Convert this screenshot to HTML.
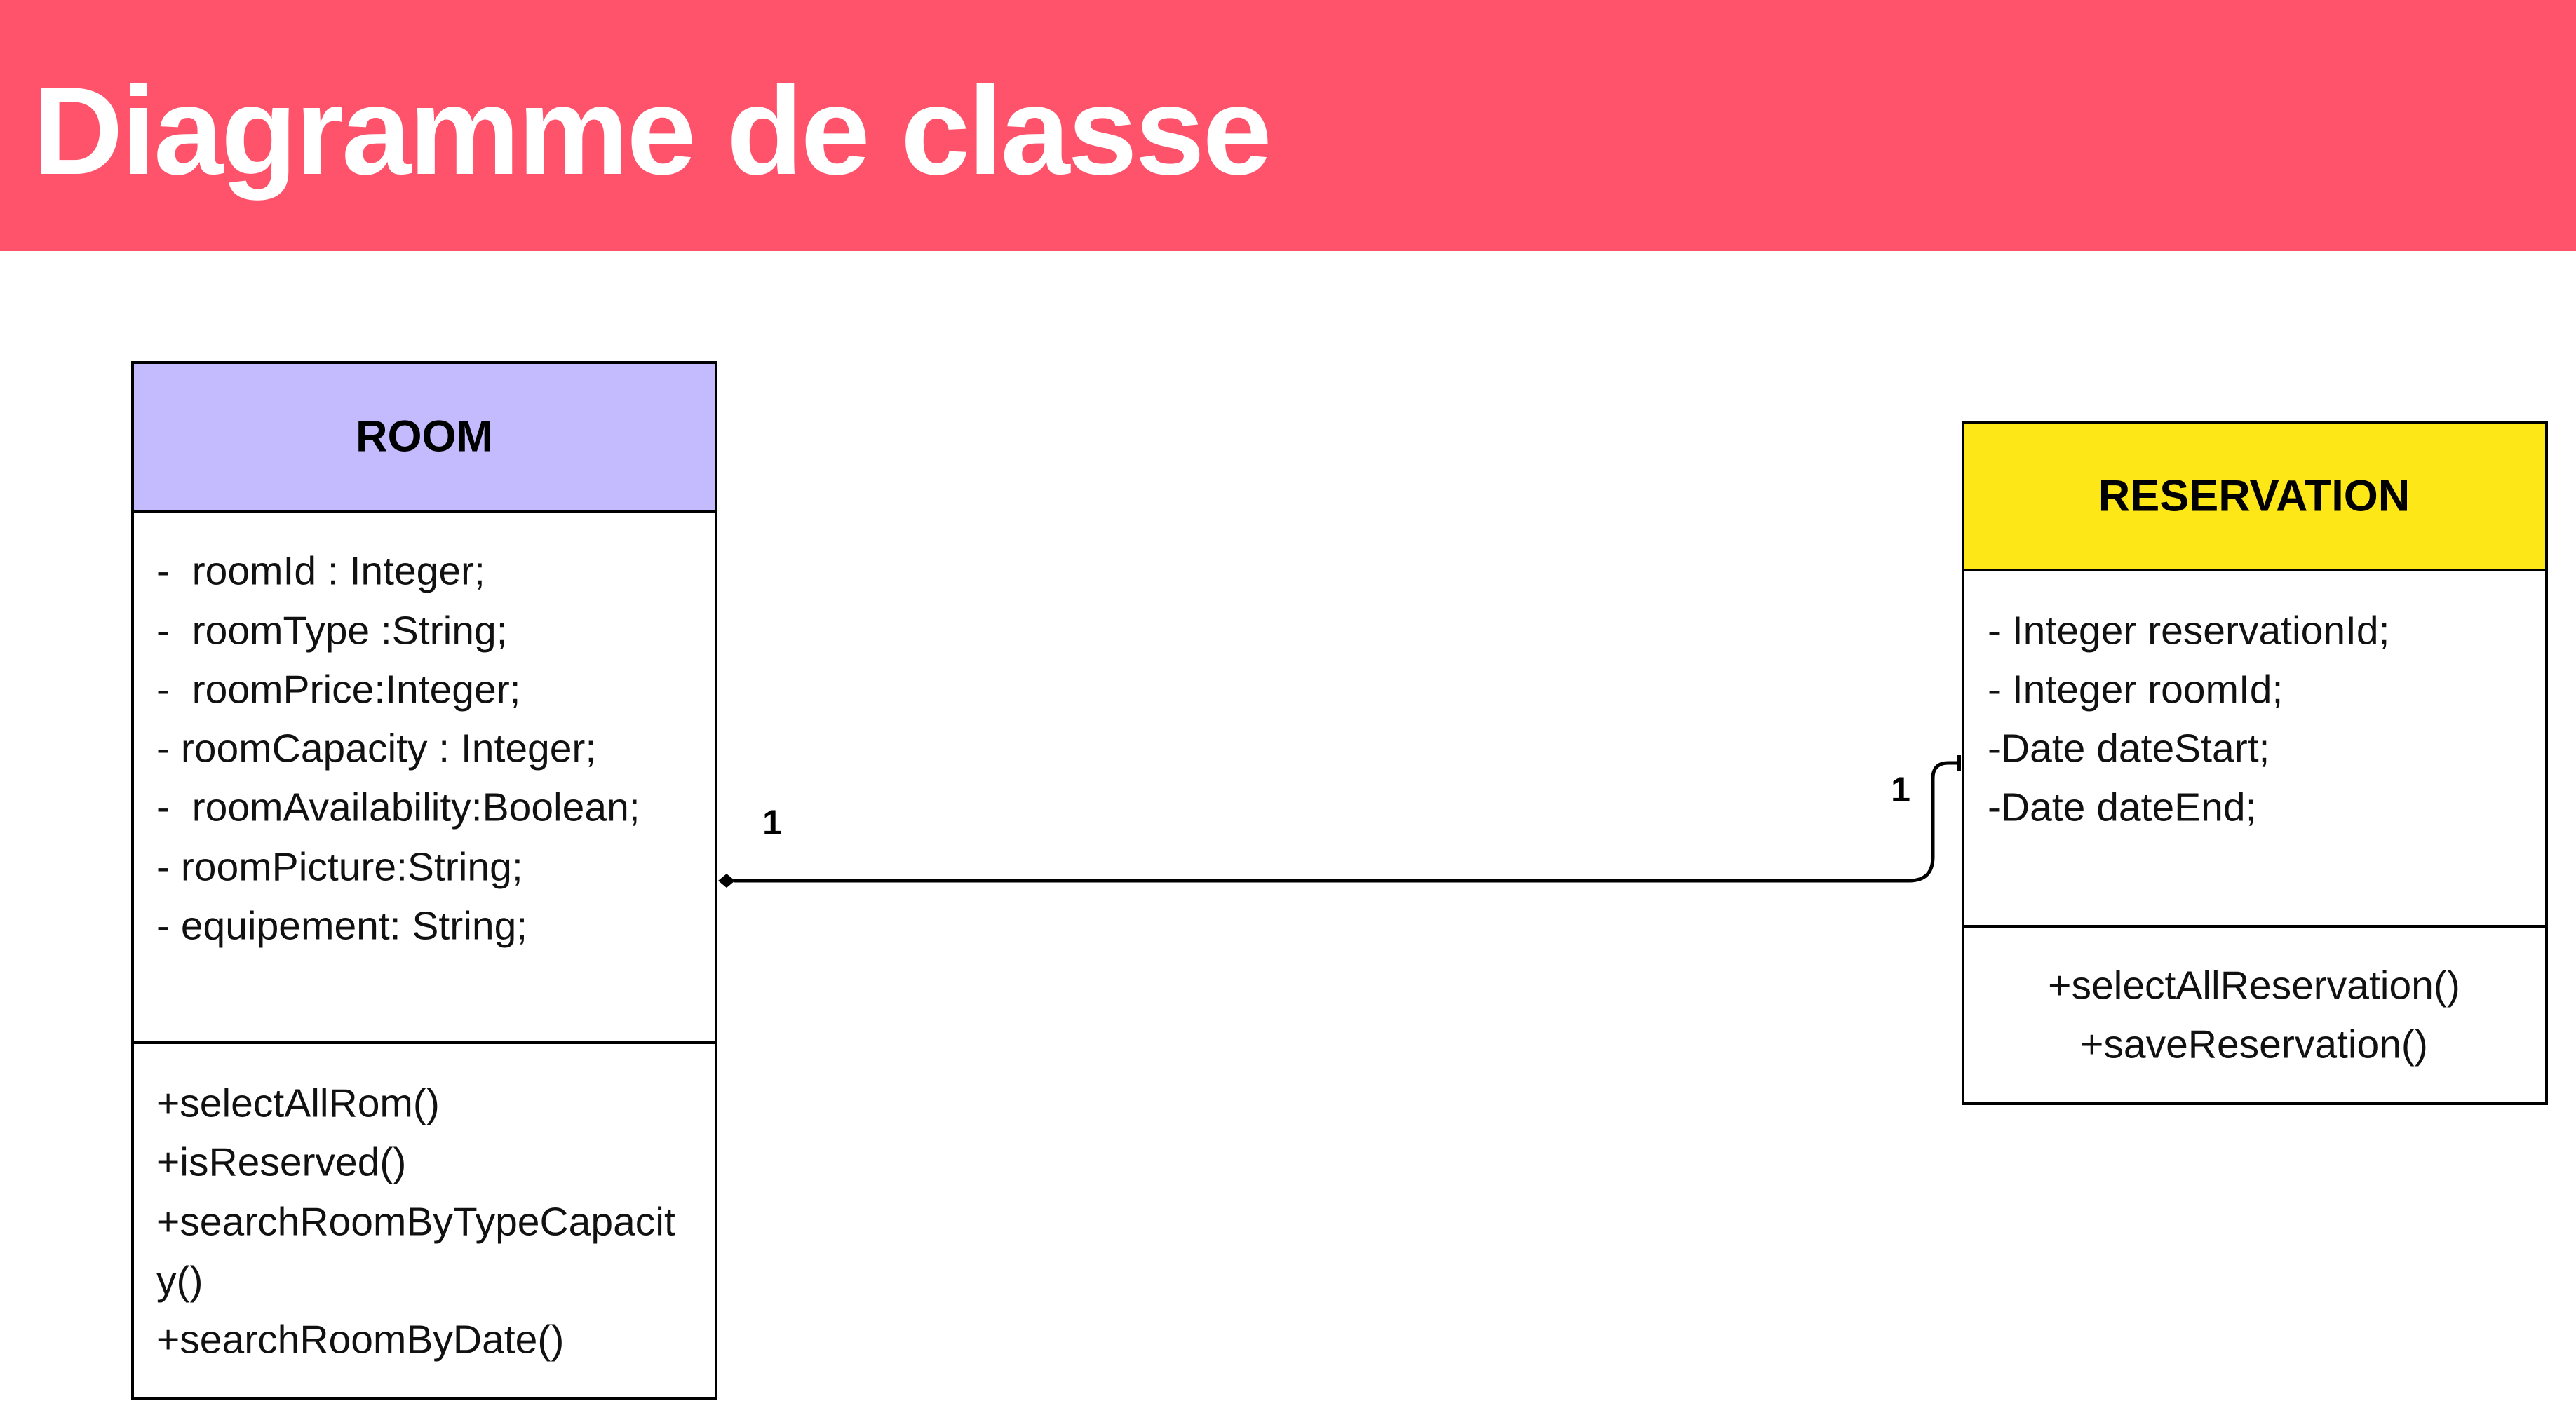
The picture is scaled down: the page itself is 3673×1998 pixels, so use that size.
<!DOCTYPE html>
<html><head><meta charset="utf-8"><style>
html,body{margin:0;padding:0;}
body{width:3673px;height:1998px;position:relative;overflow:hidden;background:#fff;font-family:"Liberation Sans",sans-serif;}
.hdr{position:absolute;left:0;top:0;width:3673px;height:358px;background:#fe536b;}
.title{position:absolute;left:47px;top:98px;font-size:178px;font-weight:bold;color:#fff;letter-spacing:-3px;white-space:nowrap;line-height:1;}
.box{position:absolute;border:4px solid #000;box-sizing:border-box;}
.t{position:absolute;font-size:57px;white-space:nowrap;line-height:1;transform:translateY(-50%);color:#111;}
.h{position:absolute;font-size:63px;font-weight:bold;white-space:nowrap;transform:translate(-50%,-50%);line-height:1;}
</style></head><body>
<div class="hdr"></div>
<div class="title">Diagramme de classe</div>

<div class="box" style="left:187px;top:515px;width:836px;height:1482px;"></div>
<div style="position:absolute;left:191px;top:519px;width:828px;height:208px;background:#c4bafe;"></div>
<div style="position:absolute;left:187px;top:727px;width:836px;height:4px;background:#000;"></div>
<div style="position:absolute;left:187px;top:1485px;width:836px;height:4px;background:#000;"></div>
<div class="h" style="left:605px;top:623px;">ROOM</div>
<div class="t" style="left:223px;top:815px;">-&nbsp; roomId : Integer;</div>
<div class="t" style="left:223px;top:900px;">-&nbsp; roomType :String;</div>
<div class="t" style="left:223px;top:984px;">-&nbsp; roomPrice:Integer;</div>
<div class="t" style="left:223px;top:1068px;">- roomCapacity : Integer;</div>
<div class="t" style="left:223px;top:1152px;">-&nbsp; roomAvailability:Boolean;</div>
<div class="t" style="left:223px;top:1237px;">- roomPicture:String;</div>
<div class="t" style="left:223px;top:1321px;">- equipement: String;</div>
<div class="t" style="left:223px;top:1574px;">+selectAllRom()</div>
<div class="t" style="left:223px;top:1658px;">+isReserved()</div>
<div class="t" style="left:223px;top:1743px;">+searchRoomByTypeCapacit</div>
<div class="t" style="left:223px;top:1827px;">y()</div>
<div class="t" style="left:223px;top:1911px;">+searchRoomByDate()</div>

<div class="box" style="left:2797px;top:600px;width:836px;height:976px;"></div>
<div style="position:absolute;left:2801px;top:604px;width:828px;height:207px;background:#fee716;"></div>
<div style="position:absolute;left:2797px;top:811px;width:836px;height:4px;background:#000;"></div>
<div style="position:absolute;left:2797px;top:1319px;width:836px;height:4px;background:#000;"></div>
<div class="h" style="left:3214px;top:708px;">RESERVATION</div>
<div class="t" style="left:2834px;top:900px;">- Integer reservationId;</div>
<div class="t" style="left:2834px;top:984px;">- Integer roomId;</div>
<div class="t" style="left:2834px;top:1068px;">-Date dateStart;</div>
<div class="t" style="left:2834px;top:1152px;">-Date dateEnd;</div>
<div class="t" style="left:3214px;top:1406px;transform:translate(-50%,-50%);">+selectAllReservation()</div>
<div class="t" style="left:3214px;top:1490px;transform:translate(-50%,-50%);">+saveReservation()</div>

<svg style="position:absolute;left:0;top:0" width="3673" height="1998">
<path d="M1047 1256 H2722 Q2756 1256 2756 1222 V1110 Q2756 1088 2778 1088 H2793" fill="none" stroke="#000" stroke-width="5"/>
<polygon points="1024,1256 1036,1246 1048,1256 1036,1266" fill="#000"/>
<line x1="2793" y1="1077" x2="2793" y2="1099" stroke="#000" stroke-width="6"/>
<text x="1101" y="1190" font-family="Liberation Sans" font-weight="bold" font-size="50" text-anchor="middle">1</text>
<text x="2710" y="1143" font-family="Liberation Sans" font-weight="bold" font-size="50" text-anchor="middle">1</text>
</svg>
</body></html>
